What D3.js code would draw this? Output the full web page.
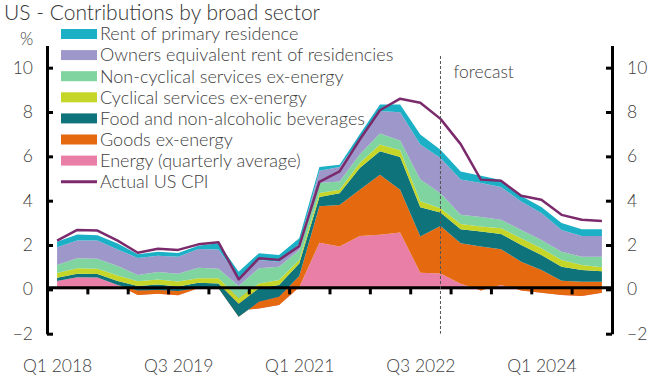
<!DOCTYPE html>
<html>
<head>
<meta charset="utf-8">
<script src="https://cdn.jsdelivr.net/npm/d3@7"></script>
<style>
  body { margin: 0; background: #fff; }
  svg { display: block; font-family: Lato, "Open Sans", sans-serif; font-weight: 300; }
  .axis path, .axis line { stroke: #000; stroke-width: 3; }
  .axis text { font-size: 17.5px; fill: #404040; font-family: Lato, "Open Sans", sans-serif; }
</style>
</head>
<body>
<div id="chart"></div>
<script>
// quarters Q1 2018 .. Q4 2024
const quarters = [
  'Q1 2018','Q2 2018','Q3 2018','Q4 2018','Q1 2019','Q2 2019','Q3 2019','Q4 2019',
  'Q1 2020','Q2 2020','Q3 2020','Q4 2020','Q1 2021','Q2 2021','Q3 2021','Q4 2021',
  'Q1 2022','Q2 2022','Q3 2022','Q4 2022','Q1 2023','Q2 2023','Q3 2023','Q4 2023',
  'Q1 2024','Q2 2024','Q3 2024','Q4 2024'
];
const xTickLabels = ['Q1 2018', 'Q3 2019', 'Q1 2021', 'Q3 2022', 'Q1 2024'];
const yTicks = [-2, 0, 2, 4, 6, 8, 10];
const forecastStart = 'Q4 2022';

// contributions, percentage points
const energy      = [0.38,0.55,0.54,0.20,-0.25,-0.20,-0.27,0.05,0.08,-0.95,-0.86,-0.71,0.10,2.10,1.93,2.41,2.46,2.56,0.75,0.72,0.25,-0.05,0.20,-0.05,-0.15,-0.25,-0.30,-0.15];
const goods       = [0.00,0.00,0.00,0.00,0.20,0.17,0.20,0.00,-0.03,-0.29,0.30,0.38,0.50,1.65,1.88,2.08,2.71,1.93,1.63,2.14,1.83,1.98,1.61,1.30,1.02,0.64,0.64,0.49];
const food        = [0.14,0.15,0.15,0.18,0.20,0.25,0.20,0.25,0.22,0.59,0.61,0.53,0.57,0.42,0.53,0.98,1.06,1.48,1.32,0.61,0.63,0.68,0.69,0.75,0.68,0.63,0.53,0.48];
const cyclical    = [0.22,0.25,0.24,0.24,0.22,0.23,0.22,0.20,0.23,0.25,0.22,0.22,0.15,0.18,0.15,0.23,0.30,0.30,0.28,0.19,0.24,0.22,0.26,0.31,0.30,0.30,0.23,0.18];
const nonCyclical = [0.36,0.45,0.45,0.43,0.28,0.33,0.35,0.47,0.43,0.55,0.68,0.60,0.46,0.45,0.38,0.38,0.50,0.45,0.97,0.68,0.41,0.43,0.38,0.37,0.38,0.38,0.37,0.47];
const oer         = [0.80,0.80,0.82,0.75,0.77,0.74,0.77,0.85,0.87,0.37,0.37,0.23,0.27,0.55,0.65,0.70,1.01,1.27,1.58,1.59,1.59,1.54,1.48,1.28,1.21,0.98,0.94,0.94];
const rent        = [0.25,0.27,0.24,0.27,0.16,0.18,0.17,0.15,0.28,0.28,0.31,0.30,0.25,0.17,0.10,0.22,0.30,0.35,0.45,0.37,0.37,0.32,0.31,0.25,0.27,0.31,0.30,0.30];
const cpi         = [2.20,2.68,2.65,2.20,1.65,1.83,1.78,2.03,2.12,0.45,1.40,1.33,1.95,4.85,5.32,6.76,8.08,8.60,8.42,7.69,6.55,4.95,4.90,4.22,4.04,3.36,3.14,3.08];

const seriesNames = [
  'Energy (quarterly average)',
  'Goods ex-energy',
  'Food and non-alcoholic beverages',
  'Cyclical services ex-energy',
  'Non-cyclical services ex-energy',
  'Owners equivalent rent of residencies',
  'Rent of primary residence'
];
const seriesColors = ['#e97fa6', '#e4690f', '#0f737c', '#c5d629', '#7fd49f', '#9d98c9', '#1bb0c6'];
const lineName = 'Actual US CPI';
const lineColor = '#7b2a6c';

const width = 655, height = 375;
const margin = {top: 45.5, right: 43, bottom: 41.3, left: 47};

const svg = d3.select('#chart').append('svg')
  .attr('width', width)
  .attr('height', height);

const rows = quarters.map((q, i) => {
  const r = {q: q};
  [energy, goods, food, cyclical, nonCyclical, oer, rent].forEach((arr, k) => {
    r[seriesNames[k]] = arr[i];
  });
  return r;
});

// plain cumulative stacking, like the spreadsheet original
const stacked = d3.stack().keys(seriesNames).offset(d3.stackOffsetNone)(rows);

const x = d3.scaleLinear()
  .domain([-0.5, quarters.length - 0.5])
  .range([margin.left, width - margin.right]);

const y = d3.scaleLinear()
  .domain([-2, 11])
  .range([height - margin.bottom, margin.top]);

const area = d3.area()
  .x((d, i) => x(i))
  .y0(d => y(d[0]))
  .y1(d => y(d[1]));

svg.append('g')
  .selectAll('path')
  .data(stacked)
  .join('path')
    .attr('fill', (d, i) => seriesColors[i])
    .attr('d', area);

const line = d3.line()
  .x((d, i) => x(i))
  .y(d => y(d));

svg.append('path')
  .datum(cpi)
  .attr('fill', 'none')
  .attr('stroke', lineColor)
  .attr('stroke-width', 2.5)
  .attr('stroke-linejoin', 'round')
  .attr('d', line);

// x axis on the zero line, ticks every two quarters
const xTicks = d3.range(1.5, quarters.length - 1, 2);
svg.append('g')
  .attr('class', 'axis')
  .attr('transform', `translate(0,${y(0) - 2})`)
  .call(d3.axisBottom(x).tickValues(xTicks).tickSize(7).tickSizeOuter(0).tickFormat(''));

svg.append('g')
  .attr('class', 'axis')
  .attr('transform', `translate(0,${height - margin.bottom + 23})`)
  .call(d3.axisBottom(x)
    .tickValues(xTickLabels.map(l => quarters.indexOf(l)))
    .tickFormat(i => quarters[i])
    .tickSize(0))
  .call(g => g.select('.domain').remove());

svg.append('g')
  .attr('class', 'axis')
  .attr('transform', `translate(${margin.left},0)`)
  .call(d3.axisLeft(y).tickValues(yTicks).tickSize(-6).tickSizeOuter(0).tickPadding(14));

svg.append('g')
  .attr('class', 'axis')
  .attr('transform', `translate(${width - margin.right},0)`)
  .call(d3.axisRight(y).tickValues(yTicks).tickSize(-6).tickSizeOuter(0).tickPadding(15));

svg.append('text')
  .attr('x', 20).attr('y', 45)
  .attr('font-size', 17).attr('fill', '#404040')
  .text('%');

// forecast marker
const fx = x(quarters.indexOf(forecastStart));
svg.append('line')
  .attr('x1', fx).attr('x2', fx)
  .attr('y1', 56).attr('y2', y(-2))
  .attr('stroke', '#555')
  .attr('stroke-width', 1)
  .attr('stroke-dasharray', '3,2');

svg.append('text')
  .attr('x', fx + 13).attr('y', 78)
  .attr('font-size', 17.5).attr('fill', '#404040')
  .text('forecast');

svg.append('text')
  .attr('x', 4).attr('y', 19.5)
  .attr('font-size', 21).attr('fill', '#333')
  .text('US - Contributions by broad sector');

// legend, top entry is last series
const legendItems = seriesNames.map((n, i) => ({name: n, color: seriesColors[i]})).reverse();
legendItems.push({name: lineName, color: lineColor, line: true});

const legend = svg.append('g')
  .selectAll('g')
  .data(legendItems)
  .join('g')
    .attr('transform', (d, i) => `translate(61,${34 + i * 21.1})`);

legend.filter(d => !d.line).append('rect')
  .attr('x', 0).attr('y', -5)
  .attr('width', 36).attr('height', 10)
  .attr('fill', d => d.color);

legend.filter(d => d.line).append('line')
  .attr('x1', 0).attr('x2', 36)
  .attr('stroke', d => d.color)
  .attr('stroke-width', 3);

legend.append('text')
  .attr('x', 39)
  .attr('dy', '0.35em')
  .attr('font-size', 18)
  .attr('fill', '#404040')
  .text(d => d.name);
</script>
</body>
</html>
